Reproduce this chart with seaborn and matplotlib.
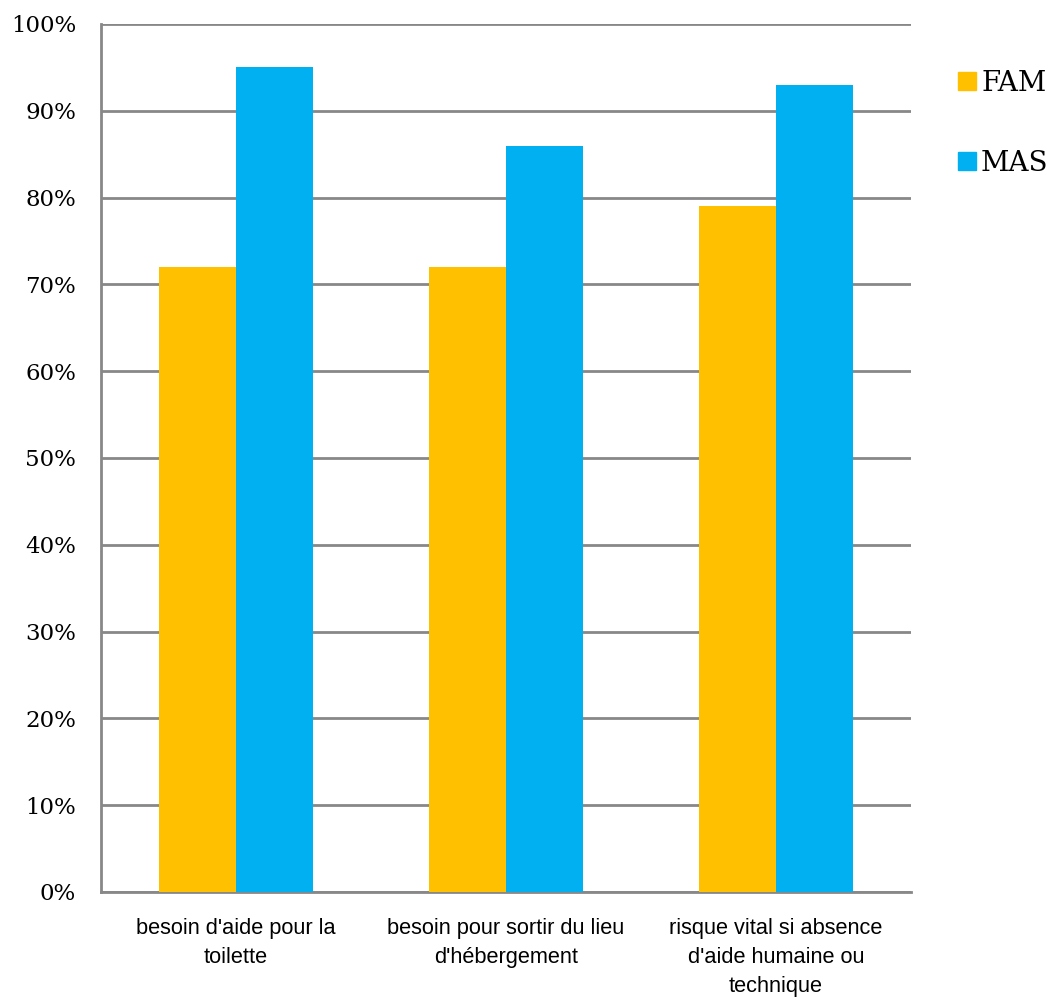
import pandas as pd
import matplotlib.pyplot as plt
import seaborn as sns
from matplotlib.lines import Line2D

# Données
categories = ["besoin d'aide pour la\ntoilette",
              "besoin pour sortir du lieu\nd'hébergement",
              "risque vital si absence\nd'aide humaine ou\ntechnique"]
fam = [72, 72, 79]
mas = [95, 86, 93]
series = ['FAM', 'MAS']
couleurs = ['#FFC000', '#00B0F0']

df = pd.DataFrame({
    'categorie': categories * 2,
    'serie': ['FAM'] * 3 + ['MAS'] * 3,
    'valeur': fam + mas,
})

sns.set_style('white')
grid_col = '#888888'

fig = plt.figure(figsize=(10.6, 10), dpi=100)
ax = fig.add_axes([0.0953, 0.108, 0.7641, 0.868])

sns.barplot(data=df, x='categorie', y='valeur', hue='serie', palette=couleurs,
            width=0.57, saturation=1, linewidth=0, ax=ax, legend=False,
            zorder=3)

ax.set_ylim(0, 100)
ax.set_xlim(-0.5, 2.5)
ax.set_yticks(range(0, 101, 10))
ax.set_yticklabels([f'{v}%' for v in range(0, 101, 10)],
                   family='DejaVu Serif', fontsize=16.5, color='black')
ax.set_xticks(range(3))
ax.set_xticklabels(categories, family='Liberation Sans', fontsize=15.7,
                   linespacing=1.5, color='black')
ax.set_xticks([-0.5, 0.5, 1.5, 2.5], minor=True)
ax.tick_params(axis='x', which='major', length=0, pad=19)
ax.tick_params(axis='x', which='minor', length=8, width=2, color=grid_col,
               direction='out')
ax.tick_params(axis='y', length=8, width=2, color=grid_col, direction='out',
               pad=10)
ax.set_xlabel('')
ax.set_ylabel('')

ax.yaxis.grid(True, color=grid_col, linewidth=2, zorder=0)
ax.set_axisbelow(True)
for s in ['top', 'right']:
    ax.spines[s].set_visible(False)
for s in ['left', 'bottom']:
    ax.spines[s].set_color(grid_col)
    ax.spines[s].set_linewidth(2)

handles = [Line2D([], [], marker='s', linestyle='', markersize=13,
                  markerfacecolor=c, markeredgecolor=c) for c in couleurs]
leg = fig.legend(handles, series, loc='upper left', bbox_to_anchor=(0.877, 0.955),
                 frameon=False, prop={'family': 'DejaVu Serif', 'size': 20},
                 handletextpad=0.05, labelspacing=1.9, handlelength=0.9)
for t in leg.get_texts():
    t.set_color('black')

fig.savefig('out.png', dpi=100)
